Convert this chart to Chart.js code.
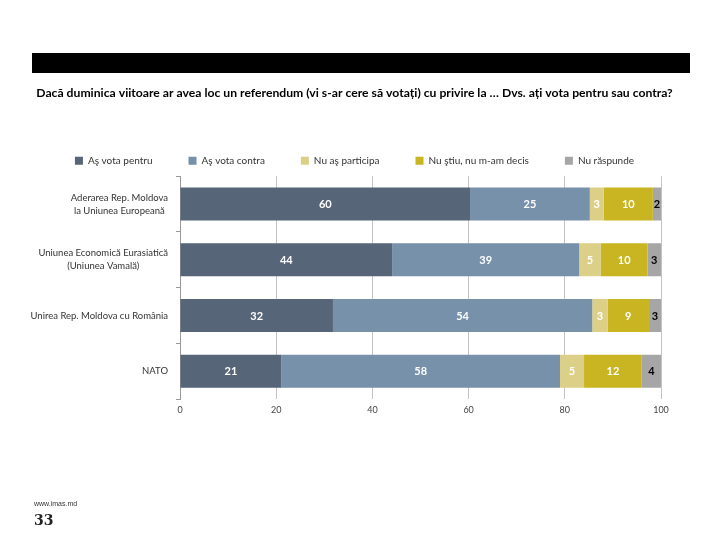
<!DOCTYPE html>
<html><head><meta charset="utf-8">
<script src="https://cdn.jsdelivr.net/npm/chart.js@4.4.0/dist/chart.umd.min.js"></script>
<style>
html,body{margin:0;padding:0;background:#fff;width:720px;height:540px;overflow:hidden;}
#band{position:absolute;left:32px;top:53px;width:658px;height:20px;background:#000;}
#wrap{position:absolute;left:0;top:0;width:720px;height:540px;}
#site{position:absolute;left:34px;top:500px;font:7px "Liberation Sans",sans-serif;color:#333;}
#page{position:absolute;left:34px;top:512px;font:bold 14px "DejaVu Serif",serif;color:#222;}
</style></head><body>
<div id="band"></div>
<div id="wrap"><canvas id="c" width="720" height="540"></canvas></div>
<div id="site">www.imas.md</div><div id="page">33</div>
<script>
const titleText = "Dacă duminica viitoare ar avea loc un referendum (vi s-ar cere să votați) cu privire la … Dvs. ați vota pentru sau contra?";
const categories = [
  ["Aderarea Rep. Moldova", "la Uniunea Europeană"],
  ["Uniunea Economică Eurasiatică", "(Uniunea Vamală)"],
  "Unirea Rep. Moldova cu România",
  "NATO"
];
const seriesNames = ["Aş vota pentru", "Aş vota contra", "Nu aş participa", "Nu ştiu, nu m-am decis", "Nu răspunde"];
const asVotaPentru = [60.3, 44.1, 31.8, 21.1];
const asVotaContra = [24.9, 38.9, 53.9, 57.9];
const nuAsParticipa = [2.9, 4.5, 3.2, 5.0];
const nuStiu = [10.2, 9.7, 8.6, 12.0];
const nuRaspunde = [1.7, 2.8, 2.5, 4.0];
const xTicks = [0, 20, 40, 60, 80, 100];

const colors = ["#566577", "#7691a9", "#dccf88", "#c8b521", "#a6a6a6"];
const labelColors = ["#fff", "#fff", "#fff", "#fff", "#000"];
const seriesData = [asVotaPentru, asVotaContra, nuAsParticipa, nuStiu, nuRaspunde];

const FONT = "Lato, 'Open Sans', sans-serif";

function widenDraw(box, d) {
  const orig = box.draw;
  box.draw = function() {
    const l = this.left, r = this.right, w = this.width;
    this.left = l - d; this.right = r + d; this.width = w + 2 * d;
    orig.apply(this, arguments);
    this.left = l; this.right = r; this.width = w;
  };
}

const boxFix = {
  id: 'boxFix',
  beforeUpdate(chart) {
    const lg = chart.legend;
    if (lg && !lg._patched) {
      const orig = lg.fit;
      lg.fit = function() {
        const mw = this.maxWidth;
        this.maxWidth = 2000;
        orig.call(this);
        this.maxWidth = mw;
        this.width = mw;
        this.height = 56.5;
      };
      widenDraw(lg, 40);
      lg._patched = true;
    }
    const tt = chart.titleBlock;
    if (tt && !tt._patched) {
      widenDraw(tt, 40);
      tt._patched = true;
    }
  }
};

const barLabels = {
  id: 'barLabels',
  afterDatasetsDraw(chart) {
    const ctx = chart.ctx;
    ctx.save();
    ctx.font = "bold 11px " + FONT;
    ctx.textAlign = 'center';
    ctx.textBaseline = 'middle';
    chart.data.datasets.forEach((ds, i) => {
      const meta = chart.getDatasetMeta(i);
      meta.data.forEach((el, j) => {
        const v = ds.data[j];
        ctx.fillStyle = labelColors[i];
        ctx.fillText(String(Math.round(v)), (el.x + el.base) / 2, el.y + 0.5);
      });
    });
    ctx.restore();
  }
};

const yLabels = {
  id: 'yLabels',
  afterDraw(chart) {
    const ctx = chart.ctx;
    const sc = chart.scales.y;
    ctx.save();
    ctx.font = "9.5px " + FONT;
    ctx.fillStyle = "#333";
    ctx.textAlign = 'center';
    ctx.textBaseline = 'middle';
    const right = sc.right - 4 - 8;
    const lh = 13;
    categories.forEach((lab, i) => {
      const lines = Array.isArray(lab) ? lab : [lab];
      const w = Math.max(...lines.map(l => ctx.measureText(l).width));
      const cx = right - w / 2;
      const yc = sc.getPixelForTick(i);
      const y0 = yc - (lines.length - 1) * lh / 2;
      lines.forEach((l, k) => ctx.fillText(l, cx, y0 + k * lh));
    });
    ctx.restore();
  }
};

new Chart(document.getElementById('c'), {
  type: 'bar',
  data: {
    labels: categories,
    datasets: seriesNames.map((n, i) => ({
      label: n,
      data: seriesData[i],
      backgroundColor: colors[i],
      borderWidth: 0,
      categoryPercentage: 1,
      barPercentage: 0.59
    }))
  },
  options: {
    indexAxis: 'y',
    responsive: false,
    animation: false,
    layout: { padding: { left: 48, right: 59, top: 86, bottom: 120 } },
    plugins: {
      title: {
        display: true,
        text: titleText,
        color: '#000',
        font: { family: FONT, size: 12.2, weight: 'bold', lineHeight: 1.2 },
        padding: { top: 0, bottom: 19 }
      },
      legend: {
        position: 'top',
        labels: {
          boxWidth: 8, boxHeight: 8, padding: 36, color: '#333',
          font: { family: FONT, size: 10 }
        }
      },
      tooltip: { enabled: false }
    },
    scales: {
      x: {
        stacked: true, min: 0, max: 100,
        afterBuildTicks: s => { s.ticks = xTicks.map(v => ({ value: v })); },
        grid: { color: '#c4c4c4', drawTicks: false, lineWidth: 1 },
        border: { display: false },
        ticks: { padding: 5, color: '#444', font: { family: FONT, size: 9 } }
      },
      y: {
        stacked: true,
        afterFit: s => { s.width = 132; },
        grid: { offset: true, drawOnChartArea: false, drawTicks: true, tickLength: 4, color: '#999' },
        border: { display: true, color: '#999' },
        ticks: { display: false }
      }
    }
  },
  plugins: [boxFix, barLabels, yLabels]
});
</script>
</body></html>
